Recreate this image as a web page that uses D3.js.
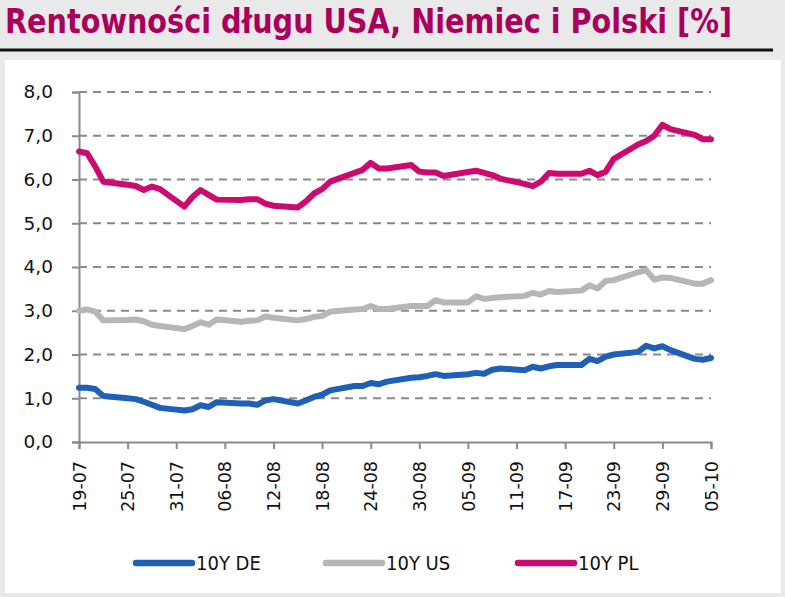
<!DOCTYPE html>
<html>
<head>
<meta charset="utf-8">
<script src="https://cdn.jsdelivr.net/npm/d3@7"></script>
<style>
  body { margin: 0; background: #e9e9e9; }
  svg { display: block; }
</style>
</head>
<body>
<script>
// business days, 2022
var dates = ["2022-07-19","2022-07-20","2022-07-21","2022-07-22","2022-07-25","2022-07-26","2022-07-27","2022-07-28","2022-07-29",
  "2022-08-01","2022-08-02","2022-08-03","2022-08-04","2022-08-05","2022-08-08","2022-08-09","2022-08-10","2022-08-11","2022-08-12",
  "2022-08-15","2022-08-16","2022-08-17","2022-08-18","2022-08-19","2022-08-22","2022-08-23","2022-08-24","2022-08-25","2022-08-26",
  "2022-08-29","2022-08-30","2022-08-31","2022-09-01","2022-09-02","2022-09-05","2022-09-06","2022-09-07","2022-09-08","2022-09-09",
  "2022-09-12","2022-09-13","2022-09-14","2022-09-15","2022-09-16","2022-09-19","2022-09-20","2022-09-21","2022-09-22","2022-09-23",
  "2022-09-26","2022-09-27","2022-09-28","2022-09-29","2022-09-30","2022-10-03","2022-10-04","2022-10-05"];

var de = [1.24,1.24,1.21,1.05,1.00,0.98,0.92,0.85,0.78,
  0.72,0.75,0.84,0.80,0.91,0.88,0.88,0.85,0.95,0.98,
  0.88,0.95,1.03,1.08,1.18,1.28,1.28,1.35,1.32,1.38,
  1.47,1.48,1.51,1.55,1.51,1.55,1.58,1.56,1.65,1.68,
  1.64,1.72,1.68,1.73,1.76,1.76,1.90,1.85,1.95,2.00,
  2.06,2.20,2.14,2.19,2.10,1.90,1.88,1.92];

var us = [3.00,3.03,2.98,2.78,2.79,2.80,2.76,2.68,2.65,
  2.58,2.65,2.74,2.68,2.80,2.75,2.77,2.78,2.87,2.84,
  2.78,2.81,2.86,2.88,2.98,3.03,3.04,3.11,3.04,3.04,
  3.11,3.11,3.11,3.24,3.19,3.19,3.33,3.27,3.29,3.31,
  3.34,3.41,3.37,3.45,3.43,3.46,3.58,3.51,3.68,3.70,
  3.88,3.93,3.71,3.76,3.75,3.62,3.62,3.70];

var pl = [6.64,6.60,6.30,5.95,5.88,5.85,5.76,5.84,5.78,
  5.38,5.60,5.76,5.65,5.54,5.53,5.55,5.55,5.45,5.40,
  5.36,5.50,5.68,5.78,5.95,6.15,6.22,6.38,6.25,6.25,
  6.33,6.18,6.16,6.16,6.08,6.17,6.20,6.15,6.10,6.02,
  5.90,5.85,5.95,6.15,6.13,6.13,6.20,6.10,6.18,6.47,
  6.80,6.88,7.00,7.25,7.15,7.02,6.92,6.92];

var seriesNames = ["10Y DE", "10Y US", "10Y PL"];
var seriesColors = ["#1f5fb6", "#b5b6b8", "#cc0a6f"];
var yTicks = [0, 1, 2, 3, 4, 5, 6, 7, 8];
var xTickLabels = ["19-07","25-07","31-07","06-08","12-08","18-08","24-08","30-08","05-09","11-09","17-09","23-09","29-09","05-10"];

var width = 785, height = 597;
var parse = d3.timeParse("%Y-%m-%d");
var fmtTick = d3.timeFormat("%d-%m");

var svg = d3.select("body").append("svg")
  .attr("width", width)
  .attr("height", height);

// white panel
svg.append("rect")
  .attr("x", 5).attr("y", 60)
  .attr("width", 776).attr("height", 533)
  .attr("fill", "#ffffff");

// title + rule
svg.append("text")
  .attr("x", 5).attr("y", 33)
  .attr("textLength", 727)
  .attr("lengthAdjust", "spacingAndGlyphs")
  .style("font-family", "'DejaVu Sans Condensed', 'DejaVu Sans', sans-serif")
  .style("font-weight", "bold")
  .style("font-size", "33px")
  .style("fill", "#a8005b")
  .text("Rentowności długu USA, Niemiec i Polski [%]");

svg.append("line")
  .attr("x1", 0).attr("x2", 773)
  .attr("y1", 50).attr("y2", 50)
  .attr("stroke", "#111").attr("stroke-width", 3);

var x = d3.scaleTime()
  .domain([parse("2022-07-19"), parse("2022-10-05")])
  .range([79, 711]);
var y = d3.scaleLinear()
  .domain([0, 8])
  .range([442, 92]);

var font = "'DejaVu Sans', Verdana, sans-serif";

// gridlines
svg.append("g").selectAll("line")
  .data(yTicks.filter(d => d > 0))
  .enter().append("line")
  .attr("x1", 79).attr("x2", 711)
  .attr("y1", d => y(d)).attr("y2", d => y(d))
  .attr("stroke", "#8a8a8a")
  .attr("stroke-width", 2)
  .attr("stroke-dasharray", "8,6");

// y axis
var yAxis = d3.axisLeft(y)
  .tickValues(yTicks)
  .tickSize(7)
  .tickPadding(19)
  .tickFormat(d => d3.format(".1f")(d).replace(".", ","));

var gy = svg.append("g")
  .attr("transform", "translate(79,0)")
  .call(yAxis);
gy.select(".domain").attr("stroke", "#8a8a8a").attr("stroke-width", 2);
gy.selectAll(".tick line").attr("stroke", "#8a8a8a").attr("stroke-width", 2);
gy.selectAll(".tick text")
  .style("font-family", font).style("font-size", "18.5px").style("fill", "#111");

// x axis
var tickDates = xTickLabels.map((d, i) => d3.timeDay.offset(parse("2022-07-19"), i * 6));
var xAxis = d3.axisBottom(x)
  .tickValues(tickDates)
  .tickSize(7)
  .tickFormat(fmtTick);

var gx = svg.append("g")
  .attr("transform", "translate(0,442)")
  .call(xAxis);
gx.select(".domain").attr("stroke", "#8a8a8a").attr("stroke-width", 2);
gx.selectAll(".tick line").attr("stroke", "#8a8a8a").attr("stroke-width", 2);
gx.selectAll(".tick text")
  .attr("transform", "rotate(-90)")
  .attr("text-anchor", "end")
  .attr("x", -19)
  .attr("y", 0)
  .attr("dy", "0.35em")
  .style("font-family", font).style("font-size", "17.5px").style("fill", "#111");

// lines
var allSeries = [de, us, pl];
var line = d3.line()
  .x((d, i) => x(parse(dates[i])))
  .y(d => y(d));

svg.append("g").selectAll("path")
  .data(allSeries)
  .enter().append("path")
  .attr("d", d => line(d))
  .attr("fill", "none")
  .attr("stroke", (d, i) => seriesColors[i])
  .attr("stroke-width", 6)
  .attr("stroke-linejoin", "round")
  .attr("stroke-linecap", "round");

// legend
var legendX = [136, 326, 518];
var lg = svg.append("g").selectAll("g")
  .data(seriesNames)
  .enter().append("g")
  .attr("transform", (d, i) => "translate(" + legendX[i] + ",563)");
lg.append("line")
  .attr("x1", 0).attr("x2", 56)
  .attr("stroke", (d, i) => seriesColors[i])
  .attr("stroke-width", 6.5)
  .attr("stroke-linecap", "round");
lg.append("text")
  .attr("x", 60).attr("dy", "0.36em")
  .style("font-family", "'DejaVu Sans Condensed', 'DejaVu Sans', sans-serif")
  .style("font-size", "20px")
  .style("fill", "#111")
  .text(d => d);
</script>
</body>
</html>
